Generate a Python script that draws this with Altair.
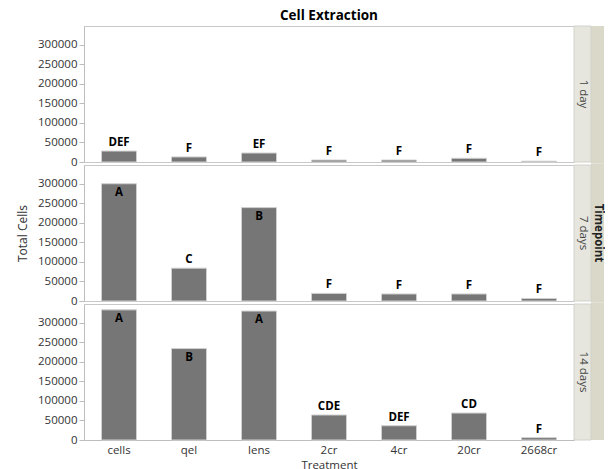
import altair as alt
import pandas as pd

treatments = ["cells", "qel", "lens", "2cr", "4cr", "20cr", "2668cr"]
timepoints = ["1 day", "7 days", "14 days"]

cells_1day = [28000, 13000, 23000, 5000, 5000, 9500, 2000]
cells_7days = [300000, 84000, 239000, 19500, 18000, 18000, 6500]
cells_14days = [333000, 234000, 330000, 64000, 36500, 69000, 6000]

letters_1day = ["DEF", "F", "EF", "F", "F", "F", "F"]
letters_7days = ["A", "C", "B", "F", "F", "F", "F"]
letters_14days = ["A", "B", "A", "CDE", "DEF", "CD", "F"]

y_ticks = [0, 50000, 100000, 150000, 200000, 250000, 300000]

rows = []
for tp, vals, lets in zip(timepoints,
                          [cells_1day, cells_7days, cells_14days],
                          [letters_1day, letters_7days, letters_14days]):
    for t, v, l in zip(treatments, vals, lets):
        rows.append({"Timepoint": tp, "Treatment": t, "Total Cells": v, "Letter": l})
df = pd.DataFrame(rows)

W, H = 490, 136
FONT = "Open Sans"
STRIP_W = 17
BAND_W = 13


def panel(tp, i):
    base = alt.Chart(df).transform_filter(alt.datum.Timepoint == tp)
    if i == 2:
        x_axis = alt.Axis(title="Treatment", labelAngle=0, ticks=False, domain=True,
                          labelPadding=4, titlePadding=4, labelFontSize=11.5,
                          titleFontSize=11.5, titleFontWeight="normal")
    else:
        x_axis = None
    x = alt.X("Treatment:N", sort=treatments,
              scale=alt.Scale(paddingInner=0.5, paddingOuter=0.25), axis=x_axis)
    y = alt.Y("Total Cells:Q",
              scale=alt.Scale(domain=[0, 348000], nice=False, zero=True),
              axis=alt.Axis(values=y_ticks, format="d", grid=False, tickSize=5,
                            labelPadding=2, labelFontSize=11.5,
                            title="Total Cells" if i == 1 else None,
                            titleFontSize=12, titleFontWeight="normal", titlePadding=8))
    bars = base.mark_bar(color="#767676", stroke="#d0d0d0", strokeWidth=1).encode(x=x, y=y)
    outside = base.transform_filter("datum['Total Cells'] <= 150000").mark_text(
        fontWeight="bold", fontSize=11.5, dy=-8, color="black", font=FONT
    ).encode(x=x, y=y, text="Letter:N")
    inside = base.transform_filter("datum['Total Cells'] > 150000").mark_text(
        fontWeight="bold", fontSize=11.5, dy=9, color="black", font=FONT
    ).encode(x=x, y=y, text="Letter:N")
    one = base.transform_filter(alt.datum.Treatment == "cells")
    strip = one.mark_rect(fill="#e6e6df", stroke="#d2d2ca", strokeWidth=1).encode(
        x=alt.value(W), x2=alt.value(W + STRIP_W), y=alt.value(0), y2=alt.value(H))
    strip_text = one.mark_text(angle=90, fontSize=11.5, color="#444444", font=FONT).encode(
        x=alt.value(W + STRIP_W / 2), y=alt.value(H / 2), text="Timepoint:N")
    band = one.mark_rect(fill="#d9d8c9").encode(
        x=alt.value(W + STRIP_W), x2=alt.value(W + STRIP_W + BAND_W),
        y=alt.value(0 if i == 0 else -1.5), y2=alt.value(H if i == 2 else H + 1.5))
    layers = [band, strip, strip_text, bars, outside, inside]
    if i == 1:
        tp_text = one.mark_text(angle=90, fontSize=11.5, fontWeight="bold",
                                color="#222222", font=FONT).encode(
            x=alt.value(W + STRIP_W + BAND_W / 2), y=alt.value(H / 2),
            text=alt.value("Timepoint"))
        layers.append(tp_text)
    ch = alt.layer(*layers).properties(width=W, height=H)
    if i == 0:
        ch = ch.properties(title=alt.TitleParams("Cell Extraction", fontSize=13.5,
                                                 fontWeight="bold", font=FONT,
                                                 anchor="middle", frame="group",
                                                 offset=3, color="black"))
    return ch


chart = alt.vconcat(
    panel(timepoints[0], 0), panel(timepoints[1], 1), panel(timepoints[2], 2),
    spacing=3, bounds="flush"
).properties(
    padding={"left": 8, "top": 0, "right": 0, "bottom": 0}
).configure_view(
    stroke="#c8c8c8"
).configure_axis(
    domainColor="#bdbdbd", tickColor="#bdbdbd", labelColor="#333333",
    titleColor="#333333", labelFont=FONT, titleFont=FONT
)

chart.save("out.html", embed_options={"renderer": "svg", "actions": False})
